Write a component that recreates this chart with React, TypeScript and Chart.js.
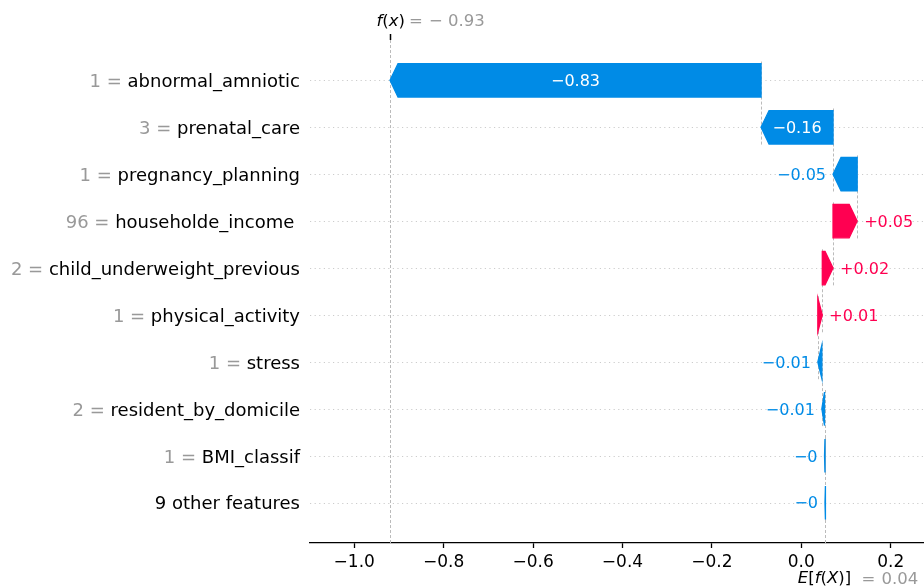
import React, { useEffect, useRef } from "react";
import { Chart, registerables } from "chart.js";

Chart.register(...registerables);

// ---- data (top row first) ----
const featureNames = [
  "abnormal_amniotic",
  "prenatal_care",
  "pregnancy_planning",
  "householde_income ",
  "child_underweight_previous",
  "physical_activity",
  "stress",
  "resident_by_domicile",
  "BMI_classif",
  "9 other features",
];
const featureValues = ["1", "3", "1", "96", "2", "1", "1", "2", "1", ""];
const shapValues = [-0.83, -0.161, -0.054, 0.054, 0.024, 0.01, -0.009, -0.006, -0.001, -0.001];
const baseValue = 0.054;
const baseValueLabel = "0.04";
const fxValueLabel = "0.93";
const xTicks = [-1.0, -0.8, -0.6, -0.4, -0.2, 0.0, 0.2];

const BLUE = "#008BE6";
const RED = "#FF0051";
const GRAY = "#999999";
const FONT = '"DejaVu Sans"';

// cumulative positions, from the bottom row (expected value) upward
const n = shapValues.length;
const starts: number[] = new Array(n);
const ends: number[] = new Array(n);
let acc = baseValue;
for (let i = n - 1; i >= 0; i--) {
  starts[i] = acc;
  acc += shapValues[i];
  ends[i] = acc;
}
const fxValue = acc;

function fmtVal(v: number): string {
  let s = (v >= 0 ? "+" : "-") + Math.abs(v).toFixed(2);
  s = s.replace(/\.?0+$/, "");
  return s.replace("-", "\u2212");
}
function fmtTick(v: number): string {
  if (Math.abs(v) < 1e-9) return "0.0";
  return (v < 0 ? "\u2212" : "") + Math.abs(v).toFixed(1);
}

type Run = { t: string; italic?: boolean; color: string };
function drawRuns(ctx: CanvasRenderingContext2D, runs: Run[], x: number, y: number, size: number) {
  let cx = x;
  ctx.textAlign = "left";
  ctx.textBaseline = "alphabetic";
  for (const r of runs) {
    ctx.font = `${r.italic ? "italic " : ""}${size}px ${FONT}`;
    ctx.fillStyle = r.color;
    ctx.fillText(r.t, cx, y);
    cx += ctx.measureText(r.t).width;
  }
}

const waterfallPlugin = {
  id: "waterfall",
  beforeDatasetsDraw(chart: any) {
    const { ctx, chartArea, scales } = chart;
    const x = scales.x;
    const y = scales.y;
    ctx.save();
    // dotted row lines
    ctx.strokeStyle = "#cccccc";
    ctx.lineWidth = 1;
    ctx.setLineDash([1.2, 3.4]);
    for (let i = 0; i < n; i++) {
      const py = Math.round(y.getPixelForValue(i)) + 0.5;
      ctx.beginPath();
      ctx.moveTo(chartArea.left, py);
      ctx.lineTo(chartArea.right, py);
      ctx.stroke();
    }
    // dashed connectors
    ctx.strokeStyle = "#bbbbbb";
    ctx.setLineDash([3, 2]);
    for (let i = 0; i < n - 1; i++) {
      const px = Math.round(x.getPixelForValue(starts[i])) + 0.5;
      ctx.beginPath();
      ctx.moveTo(px, y.getPixelForValue(i - 0.4));
      ctx.lineTo(px, y.getPixelForValue(i + 1 + 0.4));
      ctx.stroke();
    }
    // f(x) line (full height)
    const pfx = Math.round(x.getPixelForValue(fxValue)) + 0.5;
    ctx.beginPath();
    ctx.moveTo(pfx, chartArea.top);
    ctx.lineTo(pfx, chartArea.bottom);
    ctx.stroke();
    // E[f(X)] line (bottom part)
    const pe = Math.round(x.getPixelForValue(baseValue)) + 0.5;
    ctx.beginPath();
    ctx.moveTo(pe, chartArea.bottom);
    ctx.lineTo(pe, chartArea.bottom - (chartArea.bottom - chartArea.top) / n);
    ctx.stroke();
    ctx.restore();
  },
  afterDatasetsDraw(chart: any) {
    const { ctx, chartArea, scales } = chart;
    const x = scales.x;
    const y = scales.y;
    const meta = chart.getDatasetMeta(0);
    ctx.save();
    ctx.setLineDash([]);
    for (let i = 0; i < n; i++) {
      const el = meta.data[i] as any;
      const h = el.height;
      const py = y.getPixelForValue(i);
      const ps = x.getPixelForValue(starts[i]);
      const pe = x.getPixelForValue(ends[i]);
      const dir = pe >= ps ? 1 : -1;
      const dist = Math.abs(pe - ps);
      const hl = Math.min(dist, 8);
      const color = shapValues[i] >= 0 ? RED : BLUE;
      ctx.beginPath();
      ctx.moveTo(ps, py - h / 2);
      ctx.lineTo(pe - dir * hl, py - h / 2);
      ctx.lineTo(pe, py);
      ctx.lineTo(pe - dir * hl, py + h / 2);
      ctx.lineTo(ps, py + h / 2);
      ctx.closePath();
      ctx.fillStyle = color;
      ctx.fill();
      ctx.strokeStyle = color;
      ctx.lineWidth = 1.3;
      ctx.lineJoin = "miter";
      ctx.stroke();

      // value label
      const txt = fmtVal(shapValues[i]);
      ctx.font = `16px ${FONT}`;
      const tw = ctx.measureText(txt).width;
      ctx.textBaseline = "alphabetic";
      const by = py + 5.8;
      if (tw <= dist) {
        ctx.fillStyle = "#ffffff";
        ctx.textAlign = "center";
        ctx.fillText(txt, (ps + pe) / 2, by);
      } else if (dir > 0) {
        ctx.fillStyle = RED;
        ctx.textAlign = "left";
        ctx.fillText(txt, pe + 7, by);
      } else {
        ctx.fillStyle = BLUE;
        ctx.textAlign = "right";
        ctx.fillText(txt, pe - 7, by);
      }
    }

    // y labels
    const labelRight = chartArea.left - 10;
    for (let i = 0; i < n; i++) {
      const py = y.getPixelForValue(i) + 6.8;
      ctx.font = `18px ${FONT}`;
      ctx.textBaseline = "alphabetic";
      ctx.textAlign = "right";
      const name = featureNames[i];
      ctx.fillStyle = "#000000";
      ctx.fillText(name, labelRight, py);
      if (featureValues[i] !== "") {
        const nw = ctx.measureText(name).width;
        ctx.fillStyle = GRAY;
        ctx.fillText(featureValues[i] + " = ", labelRight - nw, py);
      }
    }

    // f(x) label at top
    const pfx = x.getPixelForValue(fxValue);
    ctx.strokeStyle = "#000";
    ctx.lineWidth = 1.5;
    ctx.beginPath();
    ctx.moveTo(Math.round(pfx) + 0.5, chartArea.top);
    ctx.lineTo(Math.round(pfx) + 0.5, chartArea.top - 6);
    ctx.stroke();
    drawRuns(
      ctx,
      [
        { t: "f", italic: true, color: "#000" },
        { t: "(", color: "#000" },
        { t: "x", italic: true, color: "#000" },
        { t: ")", color: "#000" },
      ],
      pfx - 13.5,
      26,
      16.5
    );
    drawRuns(ctx, [{ t: "=", color: GRAY }], pfx + 19, 26, 16.5);
    drawRuns(ctx, [{ t: "\u2212", color: GRAY }], pfx + 39, 26, 16.5);
    drawRuns(ctx, [{ t: fxValueLabel, color: GRAY }], pfx + 58, 26, 16.5);

    // E[f(X)] label at bottom
    const pb = x.getPixelForValue(baseValue);
    drawRuns(
      ctx,
      [
        { t: "E", italic: true, color: "#000" },
        { t: "[", color: "#000" },
        { t: "f", italic: true, color: "#000" },
        { t: "(", color: "#000" },
        { t: "X", italic: true, color: "#000" },
        { t: ")]", color: "#000" },
      ],
      pb - 27.6,
      583,
      16.5
    );
    drawRuns(ctx, [{ t: "=", color: GRAY }], pb + 36, 584, 16.5);
    drawRuns(ctx, [{ t: baseValueLabel, color: GRAY }], pb + 56, 584, 16.5);
    ctx.restore();
  },
};

export default function App() {
  const ref = useRef<HTMLCanvasElement>(null);
  useEffect(() => {
    if (!ref.current) return;
    const chart = new Chart(ref.current, {
      type: "bar",
      data: {
        datasets: [
          {
            data: shapValues.map((_, i) => ({ x: [starts[i], ends[i]], y: i })) as any,
            backgroundColor: "rgba(0,0,0,0)",
            borderWidth: 0,
            categoryPercentage: 1,
            barPercentage: 0.83,
          },
        ],
      },
      options: {
        animation: false,
        responsive: false,
        indexAxis: "y",
        layout: { padding: { left: 310, right: 0, top: 40, bottom: 0 } },
        plugins: { legend: { display: false }, tooltip: { enabled: false } },
        scales: {
          x: {
            type: "linear",
            position: "bottom",
            min: -1.099,
            max: 0.2745,
            afterBuildTicks: (s: any) => {
              s.ticks = xTicks.map((v) => ({ value: v }));
            },
            afterFit: (s: any) => {
              s.height = 44;
            },
            ticks: {
              font: { family: "DejaVu Sans", size: 17 },
              color: "#000",
              padding: 4,
              maxRotation: 0,
              autoSkip: false,
              includeBounds: false,
              callback: (v: any) => fmtTick(Number(v)),
            },
            grid: {
              drawOnChartArea: false,
              drawTicks: true,
              tickLength: 5,
              tickColor: "#000",
              tickWidth: 1.3,
            },
            border: { display: true, color: "#000", width: 1.3 },
          },
          y: {
            type: "linear",
            reverse: true,
            offset: false,
            min: -0.86,
            max: 9.86,
            display: false,
          },
        },
      } as any,
      plugins: [waterfallPlugin],
    });
    return () => chart.destroy();
  }, []);
  return (
    <div style={{ position: "fixed", left: 0, top: 0, width: 924, height: 587, background: "#fff" }}>
      <canvas ref={ref} width={924} height={587} />
    </div>
  );
}
